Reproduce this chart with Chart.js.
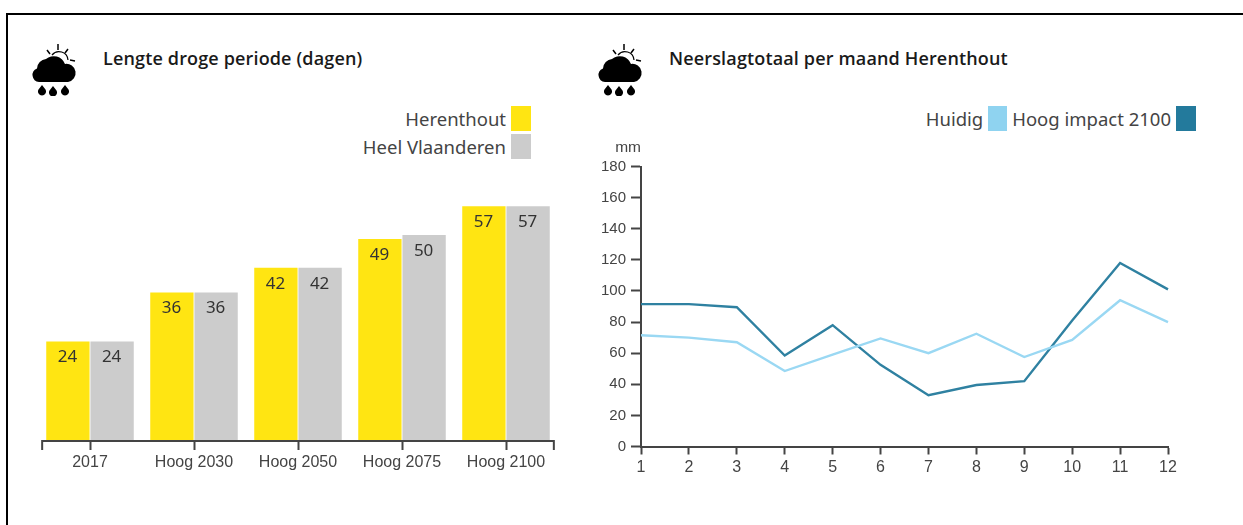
<!DOCTYPE html>
<html>
<head>
<meta charset="utf-8">
<script src="https://cdn.jsdelivr.net/npm/chart.js@4"></script>
<style>
  html, body { margin: 0; padding: 0; background: #fff; }
  body { width: 1243px; height: 525px; position: relative; overflow: hidden; }
  #frame { position: absolute; left: 6px; top: 13px; width: 1237px; height: 512px; border-top: 2px solid #000; border-left: 2px solid #000; box-sizing: border-box; }
  canvas { position: absolute; top: 0; }
  .title { position: absolute; top: 46px; font: 600 18px "Open Sans", sans-serif; letter-spacing: 0.15px; color: #1a1a1a; white-space: nowrap; }
  .legend { position: absolute; font: 18.5px "Noto Sans", sans-serif; color: #444; white-space: nowrap; display: flex; align-items: center; height: 26px; }
  .swatch { display: inline-block; width: 20px; height: 25px; margin-left: 5px; }
  .icon { position: absolute; top: 44px; width: 46px; height: 52px; }
</style>
</head>
<body>
<div id="frame"></div>

<svg class="icon" style="left:31px" viewBox="0 0 46 52"><use href="#weather"/></svg>
<svg class="icon" style="left:597px" viewBox="0 0 46 52">
  <defs>
    <g id="weather">
      <path d="M21 11a9 9 0 0 1 16 5" fill="none" stroke="#000" stroke-width="1.2"/>
      <path d="M27 0v6M16 6l3 4M37 5l-3 4M39 16l5 1" stroke="#000" stroke-width="1.5"/>
      <path d="M8 38A7 7 0 0 1 6 24.5A10 10 0 0 1 15 15A12 12 0 0 1 34 20A9 9 0 0 1 37 38Z" fill="#000"/>
      <path d="M11 41l3.5 4.5a4 4 0 1 1-7 0zM22 42l3.5 4.5a4 4 0 1 1-7 0zM34 41l3.5 4.5a4 4 0 1 1-7 0z" fill="#000"/>
    </g>
  </defs>
  <use href="#weather"/>
</svg>

<div class="title" style="left:103px">Lengte droge periode (dagen)</div>
<div class="title" style="left:669px">Neerslagtotaal per maand Herenthout</div>

<div class="legend" style="right:712px;top:105px">Herenthout<span class="swatch" style="background:#ffe512"></span></div>
<div class="legend" style="right:712px;top:133px">Heel Vlaanderen<span class="swatch" style="background:#cccccc"></span></div>
<div class="legend" style="right:47px;top:105px">Huidig<span class="swatch" style="background:#8fd3f0;width:19px"></span><span style="margin-left:5px">Hoog impact 2100</span><span class="swatch" style="background:#237a9c"></span></div>

<canvas id="droog" width="590" height="525" style="left:0"></canvas>
<canvas id="neerslag" width="653" height="525" style="left:590px"></canvas>

<script>
const scenarios = ["2017", "Hoog 2030", "Hoog 2050", "Hoog 2075", "Hoog 2100"];
const herenthout = [24, 36, 42, 49, 57];
const vlaanderen = [24, 36, 42, 50, 57];

const months = ["1", "2", "3", "4", "5", "6", "7", "8", "9", "10", "11", "12"];
const huidig = [71.5, 70, 67, 48.5, 59, 69.5, 60, 72.5, 57.5, 68.5, 94, 80];
const hoogImpact = [91.5, 91.5, 89.5, 58.5, 78, 52.5, 33, 39.5, 42, 81, 118, 101];

const axisColor = "#444";
const textColor = "#444";

// value inside the top of each bar
const barLabels = {
  id: "barLabels",
  afterDatasetsDraw(chart) {
    const { ctx } = chart;
    ctx.save();
    ctx.font = '17px "Noto Sans"';
    ctx.fillStyle = "#333";
    ctx.textAlign = "center";
    ctx.textBaseline = "middle";
    chart.data.datasets.forEach((ds, i) => {
      chart.getDatasetMeta(i).data.forEach((bar, j) => {
        ctx.fillText(ds.data[j], bar.x - 0.5, bar.y + 16);
      });
    });
    ctx.restore();
  }
};

// the axis line stops short of the band edges, with a tick at both ends
const bandAxis = {
  id: "bandAxis",
  afterDraw(chart) {
    const { ctx } = chart;
    const x = chart.scales.x;
    const step = x.getPixelForValue(1) - x.getPixelForValue(0);
    const left = x.getPixelForValue(0) - step * 0.46;
    const right = x.getPixelForValue(scenarios.length - 1) + step * 0.46;
    const y = x.top + 1;
    ctx.save();
    ctx.strokeStyle = axisColor;
    ctx.lineWidth = 2;
    ctx.beginPath();
    ctx.moveTo(left, y + 9);
    ctx.lineTo(left, y);
    ctx.lineTo(right, y);
    ctx.lineTo(right, y + 9);
    ctx.stroke();
    ctx.restore();
  }
};

const mmLabel = {
  id: "mmLabel",
  afterDraw(chart) {
    const { ctx } = chart;
    ctx.save();
    ctx.font = '15.5px "Liberation Sans"';
    ctx.fillStyle = textColor;
    ctx.textAlign = "right";
    ctx.textBaseline = "middle";
    ctx.fillText("mm", chart.scales.x.left, chart.scales.y.top - 19);
    ctx.restore();
  }
};

new Chart(document.getElementById("droog"), {
  type: "bar",
  data: {
    labels: scenarios,
    datasets: [
      { label: "Herenthout", data: herenthout, backgroundColor: "#ffe512" },
      { label: "Heel Vlaanderen", data: vlaanderen, backgroundColor: "#cccccc" }
    ]
  },
  plugins: [barLabels, bandAxis],
  options: {
    responsive: false,
    animation: false,
    categoryPercentage: 0.85,
    barPercentage: 0.98,
    layout: { padding: { left: 38, right: 32, top: 194, bottom: 45 } },
    plugins: { legend: { display: false }, tooltip: { enabled: false } },
    scales: {
      x: {
        afterFit: (scale) => { scale.height = 40; },
        border: { display: false },
        grid: { offset: false, drawOnChartArea: false, tickLength: 10, tickColor: axisColor, tickWidth: 2 },
        ticks: { color: textColor, font: { family: "Liberation Sans", size: 16 }, padding: 3, maxRotation: 0, autoSkip: false }
      },
      y: { display: false, min: 0, max: 60 }
    }
  }
});

new Chart(document.getElementById("neerslag"), {
  type: "line",
  data: {
    labels: months,
    datasets: [
      { label: "Huidig", data: huidig, borderColor: "#9ad8f3", borderWidth: 2.4, pointRadius: 0, tension: 0 },
      { label: "Hoog impact 2100", data: hoogImpact, borderColor: "#2f81a1", borderWidth: 2.4, pointRadius: 0, tension: 0 }
    ]
  },
  plugins: [mmLabel],
  options: {
    responsive: false,
    animation: false,
    layout: { padding: { left: 0, right: 75, top: 166.5, bottom: 43.5 } },
    plugins: { legend: { display: false }, tooltip: { enabled: false } },
    scales: {
      x: {
        afterFit: (scale) => { scale.height = 35; },
        border: { color: axisColor, width: 2 },
        grid: { drawOnChartArea: false, tickLength: 8, tickColor: axisColor, tickWidth: 2 },
        ticks: { color: textColor, font: { family: "Liberation Sans", size: 16 }, padding: 3, maxRotation: 0, autoSkip: false }
      },
      y: {
        min: 0,
        max: 180,
        afterFit: (scale) => { scale.width = 51; },
        border: { color: axisColor, width: 2 },
        grid: { drawOnChartArea: false, tickLength: 10, tickColor: axisColor, tickWidth: 2 },
        ticks: { stepSize: 20, color: textColor, font: { family: "Liberation Sans", size: 15 }, padding: 5 }
      }
    }
  }
});
</script>
</body>
</html>
